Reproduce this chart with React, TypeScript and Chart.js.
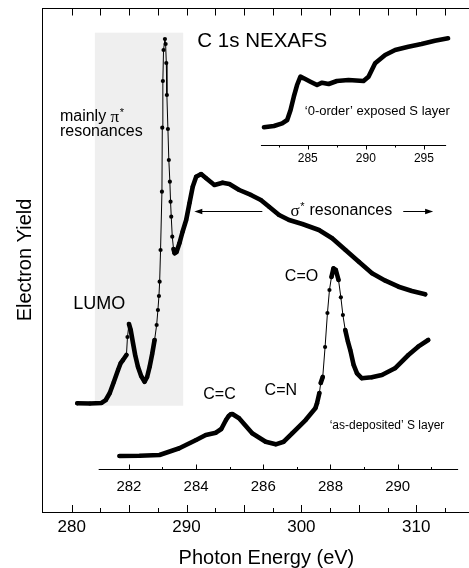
import React, { useEffect, useRef } from 'react';
import { Chart, registerables } from 'chart.js';

Chart.register(...registerables);

// ---- data (photon energy in eV, electron yield in arbitrary units) ----
const exposedEnergy = [
  280.49, 281.59, 282.6, 282.97, 283.32, 283.67, 284.04, 284.27, 284.47, 284.77,
  284.86, 284.99, 285.14, 285.34, 285.53, 285.77, 286.05, 286.35, 286.57, 286.79,
  287.01, 287.22, 287.4, 287.51, 287.6, 287.66, 287.74, 287.86, 287.89, 287.94,
  288.0, 288.12, 288.18, 288.24, 288.29, 288.38, 288.46, 288.55, 288.61, 288.67,
  288.76, 288.87, 288.96, 289.13, 289.39, 289.65, 289.97, 290.26, 290.54, 290.84,
  291.27, 291.71, 292.43, 293.14, 293.73, 294.59, 295.61, 296.47, 297.19, 298.06,
  298.93, 300.08, 301.53, 302.68, 303.84, 305.0, 306.15, 307.31, 308.46, 309.62,
  310.78,
];
const exposedYield = [
  21.57, 21.53, 21.63, 22.22, 23.61, 25.79, 28.17, 29.56, 30.16, 31.15,
  34.72, 37.3, 36.11, 33.53, 31.15, 28.83, 26.98, 25.85, 26.79, 28.83,
  31.35, 34.13, 37.1, 40.08, 42.86, 45.69, 51.98, 63.55, 76.25, 85.52,
  91.67, 93.85, 92.86, 89.09, 82.74, 75.99, 69.84, 65.54, 61.57, 58.59,
  54.62, 52.18, 51.33, 51.59, 53.37, 55.56, 57.94, 61.31, 64.54, 66.53,
  67.06, 66.21, 64.88, 65.34, 65.08, 63.89, 62.9, 61.9, 60.57, 58.93,
  57.94, 57.14, 55.95, 54.31, 51.98, 49.66, 47.36, 45.89, 44.7, 43.85,
  43.19,
];

const depositedEnergy = [
  281.72, 282.32, 282.91, 283.5, 284.0, 284.29, 284.59, 284.75, 284.89, 284.97,
  285.03, 285.08, 285.28, 285.67, 286.07, 286.37, 286.61, 286.86, 287.26, 287.55,
  287.6, 287.67, 287.71, 287.77, 287.84, 287.91, 287.97, 288.03, 288.09, 288.16,
  288.24, 288.31, 288.37, 288.44, 288.52, 288.59, 288.69, 288.79, 288.93, 289.23,
  289.53, 289.92, 290.32, 290.61, 290.91,
];
const depositedYield = [
  11.11, 11.15, 11.31, 12.64, 14.29, 15.28, 15.73, 16.47, 18.25, 19.05,
  19.38, 19.44, 18.59, 15.62, 13.95, 13.43, 13.95, 15.62, 18.25, 20.58,
  21.57, 23.61, 25.6, 26.79, 32.74, 39.48, 44.05, 46.63, 48.35, 48.02,
  46.03, 42.6, 39.09, 36.11, 33.79, 32.14, 29.17, 27.52, 26.53, 26.73,
  27.18, 28.51, 31.15, 32.8, 34.13,
];

const zeroOrderEnergy = [
  281.23, 282.09, 282.8, 283.23, 283.52, 283.8, 284.08, 284.37, 284.66, 285.23,
  285.8, 286.23, 286.8, 287.51, 288.51, 289.8, 290.23, 290.8, 291.66, 292.52,
  293.66, 294.79, 295.94, 297.08,
];
const zeroOrderYield = [
  76.33, 76.59, 77.12, 77.78, 79.76, 82.4, 84.72, 86.37, 86.05, 85.38,
  84.72, 85.18, 84.92, 85.52, 85.71, 85.52, 86.37, 89.03, 90.67, 91.67,
  92.32, 92.86, 93.51, 93.99,
];

const mainTicks = [280, 290, 300, 310];
const depositedTicks = [282, 284, 286, 288, 290];
const zeroOrderTicks = [285, 290, 295];

// shaded "mainly pi*" energy band
const piBand = [282.02, 289.71];
const piBandYield = [21.09, 95.1];

const SANS = '"Liberation Sans", Arial, Helvetica, sans-serif';
const SERIF = '"Liberation Serif", "Times New Roman", serif';

const segWidth = (c: any) => {
  const dx = Math.abs(c.p1.x - c.p0.x);
  const dy = Math.abs(c.p1.y - c.p0.y);
  return dy > 6 * dx ? 1 : 4.6;
};

const toXY = (xs: number[], ys: number[]) => xs.map((x, i) => ({ x, y: ys[i] }));

const decor = {
  id: 'decor',
  beforeDatasetsDraw(chart: any) {
    const { ctx, scales } = chart;
    const { x, y } = scales;
    ctx.save();
    ctx.fillStyle = '#efefef';
    const x0 = x.getPixelForValue(piBand[0]);
    const x1 = x.getPixelForValue(piBand[1]);
    const y0 = y.getPixelForValue(piBandYield[1]);
    const y1 = y.getPixelForValue(piBandYield[0]);
    ctx.fillRect(x0, y0, x1 - x0, y1 - y0);
    ctx.restore();
  },
  afterDatasetsDraw(chart: any) {
    const { ctx, chartArea, scales } = chart;
    const { x, y, x2, x3 } = scales;
    ctx.save();
    ctx.strokeStyle = '#000';
    ctx.fillStyle = '#000';
    ctx.lineWidth = 1;

    const line = (ax: number, ay: number, bx: number, by: number) => {
      ctx.beginPath();
      ctx.moveTo(ax, ay);
      ctx.lineTo(bx, by);
      ctx.stroke();
    };

    // top spine with downward ticks
    const top = chartArea.top + 0.5;
    line(chartArea.left, top, chartArea.right, top);
    for (let v = 280; v <= 316; v += 2.5) {
      const px = Math.round(x.getPixelForValue(v)) + 0.5;
      line(px, top, px, top + 7);
    }
    // bottom inward ticks
    const bot = chartArea.bottom;
    for (let v = 280; v <= 316; v += 2.5) {
      const px = Math.round(x.getPixelForValue(v)) + 0.5;
      const major = Math.abs(v / 5 - Math.round(v / 5)) < 1e-6;
      line(px, bot, px, bot - (major ? 7 : 4));
    }

    // as-deposited energy axis
    const ya = Math.round(y.getPixelForValue(8.6)) + 0.5;
    line(x2.getPixelForValue(281.1), ya, x2.getPixelForValue(291.8), ya);
    for (let v = 282; v <= 291; v += 1) {
      const px = Math.round(x2.getPixelForValue(v)) + 0.5;
      line(px, ya, px, ya - (v % 2 === 0 ? 5 : 2.5));
    }
    ctx.font = `15px ${SANS}`;
    ctx.textAlign = 'center';
    ctx.textBaseline = 'middle';
    depositedTicks.forEach((v) => ctx.fillText(String(v), x2.getPixelForValue(v), ya + 17));

    // zero-order inset energy axis
    const yb = Math.round(y.getPixelForValue(72.8)) + 0.5;
    line(x3.getPixelForValue(280.97), yb, x3.getPixelForValue(296.91), yb);
    for (let v = 282.5; v <= 296; v += 2.5) {
      const px = Math.round(x3.getPixelForValue(v)) + 0.5;
      const major = Math.abs(v / 5 - Math.round(v / 5)) < 1e-6;
      line(px, yb, px, yb + (major ? 4 : 2));
    }
    ctx.font = `12px ${SANS}`;
    zeroOrderTicks.forEach((v) => ctx.fillText(String(v), x3.getPixelForValue(v), yb + 13));

    // annotations
    const X = (v: number) => x.getPixelForValue(v);
    const Y = (v: number) => y.getPixelForValue(v);
    ctx.textAlign = 'left';
    const put = (s: string, ex: number, ey: number, size: number, fam = SANS) => {
      ctx.font = `${size}px ${fam}`;
      ctx.fillText(s, X(ex), Y(ey));
    };
    put('C 1s NEXAFS', 290.94, 93.31, 20.5);
    put('LUMO', 280.13, 41.27, 18);
    put('C=O', 298.56, 46.69, 16);
    put('C=C', 291.46, 23.21, 16);
    put('C=N', 296.8, 24.01, 16);
    put('\u2018as-deposited\u2019 S layer', 302.46, 17.06, 12);
    put('\u20180-order\u2019 exposed S layer', 300.3, 79.42, 13);

    // mainly pi* resonances
    let cx = X(278.98);
    let cy = Y(78.43);
    ctx.font = `16px ${SANS}`;
    ctx.fillText('mainly ', cx, cy);
    cx += ctx.measureText('mainly ').width;
    ctx.font = `17px ${SERIF}`;
    ctx.fillText('\u03c0', cx, cy + 1);
    cx += ctx.measureText('\u03c0').width;
    ctx.font = `11px ${SANS}`;
    ctx.fillText('*', cx + 0.5, cy - 4);
    put('resonances', 278.98, 75.46, 16);

    // sigma* resonances with arrows
    cx = X(299.06);
    cy = Y(59.78);
    ctx.font = `17px ${SERIF}`;
    ctx.fillText('\u03c3', cx, cy + 1);
    cx += ctx.measureText('\u03c3').width;
    ctx.font = `11px ${SANS}`;
    ctx.fillText('*', cx + 0.5, cy - 4);
    cx += ctx.measureText('*').width + 1;
    ctx.font = `16px ${SANS}`;
    ctx.fillText(' resonances', cx, cy);

    const arrow = (fromE: number, toE: number) => {
      const ax = X(fromE);
      const bx = X(toE);
      const dir = Math.sign(bx - ax);
      const ay = Math.round(cy) + 0.5;
      line(ax, ay, bx - dir * 6, ay);
      ctx.beginPath();
      ctx.moveTo(bx, ay);
      ctx.lineTo(bx - dir * 8, ay - 2.8);
      ctx.lineTo(bx - dir * 8, ay + 2.8);
      ctx.closePath();
      ctx.fill();
    };
    arrow(296.6, 290.68);
    arrow(308.87, 311.47);

    ctx.restore();
  },
};

export default function App() {
  const ref = useRef<HTMLCanvasElement>(null);
  useEffect(() => {
    const common = {
      borderColor: '#000',
      backgroundColor: '#000',
      pointBackgroundColor: '#000',
      pointBorderWidth: 0,
      pointHoverRadius: 0,
      borderCapStyle: 'round',
      borderJoinStyle: 'round',
      tension: 0,
      yAxisID: 'y',
    };
    const chart = new Chart(ref.current as HTMLCanvasElement, {
      type: 'line',
      data: {
        datasets: [
          {
            ...common,
            label: 'exposed S layer',
            data: toXY(exposedEnergy, exposedYield),
            xAxisID: 'x',
            borderWidth: 1,
            pointRadius: 2.1,
            segment: { borderWidth: segWidth },
          },
          {
            ...common,
            label: 'as-deposited S layer',
            data: toXY(depositedEnergy, depositedYield),
            xAxisID: 'x2',
            borderWidth: 1,
            pointRadius: 2.1,
            segment: { borderWidth: segWidth },
          },
          {
            ...common,
            label: '0-order exposed S layer',
            data: toXY(zeroOrderEnergy, zeroOrderYield),
            xAxisID: 'x3',
            borderWidth: 4.6,
            pointRadius: 0,
          },
        ] as any,
      },
      options: {
        animation: false,
        responsive: false,
        devicePixelRatio: 1,
        layout: { padding: { top: 8, left: 0, right: 0, bottom: 0 } },
        plugins: { legend: { display: false }, tooltip: { enabled: false } },
        events: [],
        scales: {
          x: {
            type: 'linear',
            position: 'bottom',
            min: 277.418,
            max: 316.5,
            afterBuildTicks: (s: any) => {
              s.ticks = mainTicks.map((value) => ({ value }));
            },
            afterFit: (s: any) => {
              s.height = 56;
            },
            grid: { display: false, drawTicks: false },
            border: { display: true, color: '#000', width: 1 },
            ticks: {
              color: '#000',
              font: { family: SANS, size: 17 },
              padding: 5,
              maxRotation: 0,
              autoSkip: false,
            },
            title: {
              display: true,
              text: 'Photon Energy (eV)',
              color: '#000',
              font: { family: SANS, size: 20 },
              padding: { top: 0, bottom: -2 },
            },
          },
          x2: { type: 'linear', display: false, min: 279.413, max: 292.776 },
          x3: { type: 'linear', display: false, min: 262.121, max: 300.767 },
          y: {
            type: 'linear',
            position: 'left',
            min: 0,
            max: 100,
            afterFit: (s: any) => {
              s.width = 42;
            },
            grid: { display: false, drawTicks: false },
            border: { display: true, color: '#000', width: 1 },
            ticks: { display: false },
            title: {
              display: true,
              text: 'Electron Yield',
              color: '#000',
              font: { family: SANS, size: 20 },
              padding: { top: 13, bottom: 0 },
            },
          },
        },
      } as any,
      plugins: [decor],
    });
    return () => chart.destroy();
  }, []);
  return (
    <div
      style={{
        position: 'absolute',
        left: 0,
        top: 0,
        width: 469,
        height: 568,
        overflow: 'hidden',
        background: '#fff',
      }}
    >
      <canvas ref={ref} width={493} height={568} style={{ display: 'block' }} />
    </div>
  );
}
